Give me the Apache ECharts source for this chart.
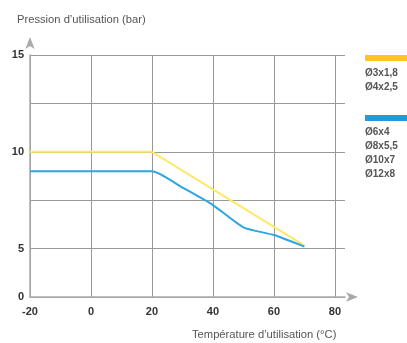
<!DOCTYPE html>
<html><head><meta charset="utf-8">
<script src="https://cdn.jsdelivr.net/npm/echarts@6/dist/echarts.min.js"></script>
<style>html,body{margin:0;padding:0;background:#fff}#c{width:407px;height:343px}</style>
</head><body><div id="c"></div>
<script>
const yellowX = [-20, 20, 70];
const yellowY = [10, 10, 5.15];
const blueX = [-20, 20, 30, 40, 50, 60, 70];
const blueY = [9, 9, 8.15, 7.25, 6.1, 5.7, 5.1];
const yellowName = ['Ø3x1,8', 'Ø4x2,5'];
const blueName = ['Ø6x4', 'Ø8x5,5', 'Ø10x7', 'Ø12x8'];
const yTickLabels = {2.5: '0', 5: '5', 10: '10', 15: '15'};
const yAxisTitle = 'Pression d’utilisation (bar)';
const xAxisTitle = 'Température d’utilisation (°C)';

const FONT = '"Liberation Sans Narrow", "Liberation Sans", Arial, sans-serif';
const chart = echarts.init(document.getElementById('c'));
const zip = (xs, ys) => xs.map((x, i) => [x, ys[i]]);
chart.setOption({
  animation: false,
  backgroundColor: '#fff',
  grid: {left: 30, right: 62, top: 55, bottom: 46},
  title: [
    {text: yAxisTitle, left: 17, top: 14, padding: 0, textStyle: {fontFamily: FONT, fontSize: 11.2, fontWeight: 'normal', color: '#555'}},
    {text: xAxisTitle, left: 192, top: 329, padding: 0, textStyle: {fontFamily: FONT, fontSize: 11.2, fontWeight: 'normal', color: '#555'}},
    {text: yellowName.join('\n'), left: 365, top: 66, padding: 0, textStyle: {fontFamily: FONT, fontSize: 10, fontWeight: 'bold', color: '#555', lineHeight: 14}},
    {text: blueName.join('\n'), left: 365, top: 125, padding: 0, textStyle: {fontFamily: FONT, fontSize: 10, fontWeight: 'bold', color: '#555', lineHeight: 14}}
  ],
  legend: {
    orient: 'vertical', left: 365, top: 55, itemWidth: 44, itemHeight: 6, itemGap: 54,
    icon: 'rect', formatter: () => '', padding: 0,
    data: [
      {name: yellowName.join(' / '), itemStyle: {color: '#ffc61e'}},
      {name: blueName.join(' / '), itemStyle: {color: '#1f9bd8'}}
    ]
  },
  xAxis: {
    type: 'value', min: -20, max: 83.3, interval: 20,
    axisLine: {show: true, lineStyle: {color: '#aaa', width: 1.5}, symbol: ['none', 'arrow'], symbolSize: [7, 12], symbolOffset: [0, 13]},
    axisTick: {show: false},
    axisLabel: {margin: 9, fontFamily: FONT, fontSize: 11, fontWeight: 'bold', color: '#333', showMaxLabel: false,
      formatter: v => (v % 20 === 0 ? String(v) : '')},
    splitLine: {show: true, lineStyle: {color: ['#999', '#999', '#999', '#999', '#999', '#999', 'rgba(0,0,0,0)'], width: 1}}
  },
  yAxis: {
    type: 'value', min: 2.5, max: 15, interval: 2.5,
    axisLine: {show: true, onZero: false, lineStyle: {color: '#aaa', width: 1.5}, symbol: ['none', 'arrow'], symbolSize: [7, 12], symbolOffset: [0, 18]},
    axisTick: {show: false},
    axisLabel: {margin: 6, fontFamily: FONT, fontSize: 11, fontWeight: 'bold', color: '#333',
      formatter: v => yTickLabels[v] || ''},
    splitLine: {show: true, lineStyle: {color: '#999', width: 1}}
  },
  series: [
    {name: yellowName.join(' / '), type: 'line', data: zip(yellowX, yellowY), showSymbol: false,
      lineStyle: {color: '#ffe86a', width: 2}, itemStyle: {color: '#ffc61e'}},
    {name: blueName.join(' / '), type: 'line', data: zip(blueX, blueY), showSymbol: false, smooth: 0.2,
      lineStyle: {color: '#2ea6df', width: 2}, itemStyle: {color: '#1f9bd8'}}
  ]
});
</script></body></html>
